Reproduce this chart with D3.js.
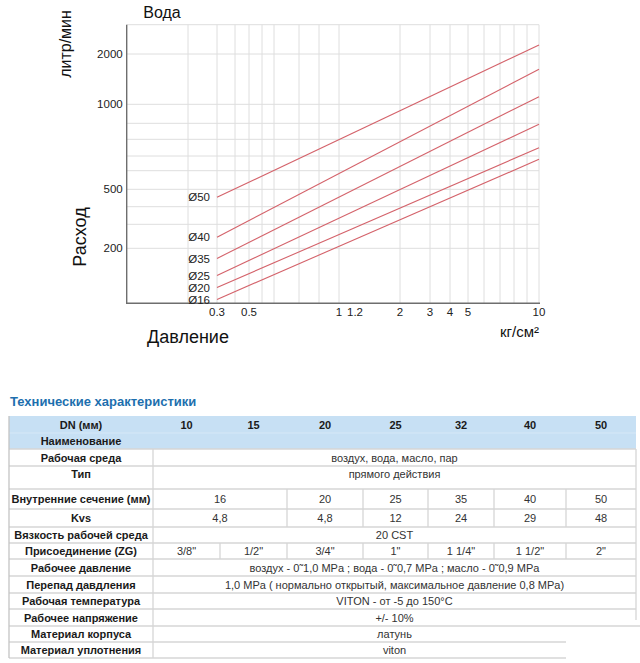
<!DOCTYPE html>
<html><head><meta charset="utf-8">
<script src="https://cdn.jsdelivr.net/npm/d3@7"></script>
<style>body{margin:0;background:#fff;} svg{display:block;font-family:"Liberation Sans",Arial,sans-serif;}</style>
</head><body><svg id="c" width="640" height="663"></svg>
<script>
// ---- chart data ----
const pressurePoints = [0.3, 10];
const seriesNames = ["Ø50", "Ø40", "Ø35", "Ø25", "Ø20", "Ø16"];
const flowAtLow  = [451, 241, 176, 142, 122, 105];
const flowAtHigh = [2265, 1620, 1111, 893, 748, 676];
const xGridValues = [0.1,0.2,0.3,0.4,0.5,0.6,0.7,0.8,0.9,1,2,3,4,5,6,7,8,9,10];
const yGridValues = [100,200,300,400,500,600,700,800,900,1000,2000,3000];
const xTickValues = [0.3, 0.5, 1, 1.2, 2, 3, 4, 5, 10];
const yTickValues = [2000, 1000, 500, 200];

// ---- table data ----
const tableTitle = "Технические характеристики";
const dnSizes = ["10","15","20","25","32","40","50"];
const innerSection = ["16","20","25","35","40","50"];
const kvsValues = ["4,8","4,8","12","24","29","48"];
const groupedSpans = [2,1,1,1,1,1];
const connections = ['3/8"','1/2"','3/4"','1"','1 1/4"','1 1/2"','2"'];
const mediumText = "воздух, вода, масло, пар";
const typeText = "прямого действия";
const viscosityText = "20 CST";
const workPressureText = "воздух - 0˜1,0 MPa ; вода - 0˜0,7 MPa ; масло - 0˜0,9 MPa";
const diffPressureText = "1,0 MPa ( нормально открытый, максимальное давление 0,8 MPa)";
const temperatureText = "VITON - от -5 до 150°C";
const voltageText = "+/- 10%";
const bodyText = "латунь";
const sealText = "viton";

(function () {
const svg = d3.select("#c");

// ---- scales (hand-drawn grid, piecewise log) ----
const x = d3.scaleLog().domain(xGridValues)
  .range([126.7,188,217,235,249,262,274,299,319,339,400,430,450,468,484,500,514,527,539]);
const y = d3.scaleLog().domain(yGridValues)
  .range([303.3,248.3,224.3,206.7,189.3,170.7,156,139.3,123.3,104.3,54,24.7]);

const pL = 126.7, pR = 539, pT = 24.7, pB = 303.3;
const gridColor = "#dedede";

const g = svg.append("g");
g.selectAll("line.vg").data(xGridValues.slice(1)).join("line")
  .attr("x1", d => x(d)).attr("x2", d => x(d)).attr("y1", pT).attr("y2", pB)
  .attr("stroke", gridColor).attr("stroke-width", 1);
g.selectAll("line.hg").data(yGridValues.slice(1)).join("line")
  .attr("x1", pL).attr("x2", pR).attr("y1", d => y(d)).attr("y2", d => y(d))
  .attr("stroke", gridColor).attr("stroke-width", 1);

// axes
g.append("line").attr("x1", pL).attr("x2", pL).attr("y1", pT).attr("y2", pB + 0.7)
  .attr("stroke", "#6e6e6e").attr("stroke-width", 1.4);
g.append("line").attr("x1", pL).attr("x2", pR + 1).attr("y1", pB).attr("y2", pB)
  .attr("stroke", "#6e6e6e").attr("stroke-width", 1.4);

// series lines
const line = d3.line().x(d => x(d[0])).y(d => y(d[1]));
seriesNames.forEach((name, i) => {
  const pts = pressurePoints.map((p, k) => [p, k === 0 ? flowAtLow[i] : flowAtHigh[i]]);
  g.append("path").attr("d", line(pts)).attr("fill", "none")
    .attr("stroke", "#d4636b").attr("stroke-width", 1.1);
  g.append("text").attr("x", x(pressurePoints[0]) - 7).attr("y", y(flowAtLow[i]))
    .attr("dy", "0.36em").attr("text-anchor", "end").attr("font-size", 11.5)
    .attr("fill", "#222").text(name);
});

// tick labels
g.selectAll("text.yt").data(yTickValues).join("text")
  .attr("x", pL - 4).attr("y", d => y(d)).attr("dy", "0.36em")
  .attr("text-anchor", "end").attr("font-size", 11.5).attr("fill", "#222").text(d => d);
g.selectAll("text.xt").data(xTickValues).join("text")
  .attr("x", d => x(d)).attr("y", 315.5)
  .attr("text-anchor", "middle").attr("font-size", 11.5).attr("fill", "#222").text(d => d);

// titles
svg.append("text").attr("x", 162).attr("y", 18).attr("text-anchor", "middle")
  .attr("font-size", 16).attr("fill", "#111").text("Вода");
svg.append("text").attr("transform", "translate(71,44) rotate(-90)").attr("text-anchor", "middle")
  .attr("font-size", 16).attr("fill", "#111").text("литр/мин");
svg.append("text").attr("transform", "translate(86,237) rotate(-90)").attr("text-anchor", "middle")
  .attr("font-size", 18).attr("fill", "#111").text("Расход");
svg.append("text").attr("x", 188).attr("y", 343).attr("text-anchor", "middle")
  .attr("font-size", 18).attr("fill", "#111").text("Давление");
svg.append("text").attr("x", 539).attr("y", 337).attr("text-anchor", "end")
  .attr("font-size", 15).attr("fill", "#111").text("кг/см²");

// ---- table ----
svg.append("text").attr("x", 10).attr("y", 405.5).attr("font-size", 13).attr("font-weight", "bold")
  .attr("fill", "#1d6fae").text(tableTitle);

const tL = 9, tR = 636, labelR = 153;
const colEdges = [153, 220, 287, 363, 428, 494, 566, 636];
const rowTops = [416, 433, 449, 466, 489, 509, 527, 543, 559, 576, 593, 609, 626, 642, 658];
const lineColor = "#d6d6d6";
const T = svg.append("g");

T.append("rect").attr("x", tL).attr("y", rowTops[0]).attr("width", tR - tL)
  .attr("height", rowTops[2] - rowTops[0]).attr("fill", "#c7e0f4");
T.append("line").attr("x1", tL).attr("x2", tR).attr("y1", rowTops[1]).attr("y2", rowTops[1])
  .attr("stroke", "#d6e8f7").attr("stroke-width", 1);

rowTops.slice(2).forEach((yy, i) => {
  const idx = i + 2;
  let xr = tR;
  if (idx === 12) xr = 640;
  if (idx > 12) xr = 566;
  T.append("line").attr("x1", tL).attr("x2", xr).attr("y1", yy).attr("y2", yy)
    .attr("stroke", lineColor).attr("stroke-width", 1.3);
});
T.append("line").attr("x1", tL).attr("x2", tL).attr("y1", rowTops[0]).attr("y2", rowTops[14])
  .attr("stroke", "#c4c4c4").attr("stroke-width", 1.3);
T.append("line").attr("x1", tR).attr("x2", tR).attr("y1", rowTops[2]).attr("y2", 620)
  .attr("stroke", lineColor).attr("stroke-width", 1.3);
T.append("line").attr("x1", labelR).attr("x2", labelR).attr("y1", rowTops[2]).attr("y2", rowTops[14])
  .attr("stroke", lineColor).attr("stroke-width", 1.3);

const rowLabels = ["DN (мм)", "Наименование", "Рабочая среда", "Тип", "Внутренние сечение (мм)", "Kvs",
  "Вязкость рабочей среда", "Присоединение (ZG)", "Рабочее давление", "Перепад давдления",
  "Рабочая температура", "Рабочее напряжение", "Материал корпуса", "Материал уплотнения"];
function textY(r) {
  if (r === 3) return rowTops[r] + 12;
  return (rowTops[r] + rowTops[r + 1]) / 2 + 4;
}
rowLabels.forEach((lab, r) => {
  T.append("text").attr("x", (tL + labelR) / 2).attr("y", textY(r)).attr("text-anchor", "middle")
    .attr("font-size", 11).attr("font-weight", "bold").attr("fill", "#1a1a1a").text(lab);
});
dnSizes.forEach((v, i) => {
  T.append("text").attr("x", (colEdges[i] + colEdges[i + 1]) / 2).attr("y", textY(0))
    .attr("text-anchor", "middle").attr("font-size", 11).attr("font-weight", "bold")
    .attr("fill", "#1a1a1a").text(v);
});
const spanRows = [[2, mediumText], [3, typeText], [6, viscosityText], [8, workPressureText],
  [9, diffPressureText], [10, temperatureText], [11, voltageText], [12, bodyText], [13, sealText]];
spanRows.forEach(([r, t]) => {
  T.append("text").attr("x", (labelR + tR) / 2).attr("y", textY(r)).attr("text-anchor", "middle")
    .attr("font-size", 11).attr("fill", "#333").text(t);
});
function groupedRow(r, vals, spans) {
  let c = 0;
  vals.forEach((v, i) => {
    const x0 = colEdges[c], x1 = colEdges[c + spans[i]];
    c += spans[i];
    T.append("text").attr("x", (x0 + x1) / 2).attr("y", textY(r)).attr("text-anchor", "middle")
      .attr("font-size", 11).attr("fill", "#333").text(v);
    if (c < colEdges.length - 1)
      T.append("line").attr("x1", x1).attr("x2", x1).attr("y1", rowTops[r]).attr("y2", rowTops[r + 1])
        .attr("stroke", lineColor).attr("stroke-width", 1.3);
  });
}
groupedRow(4, innerSection, groupedSpans);
groupedRow(5, kvsValues, groupedSpans);
groupedRow(7, connections, connections.map(() => 1));
})();
</script></body></html>
